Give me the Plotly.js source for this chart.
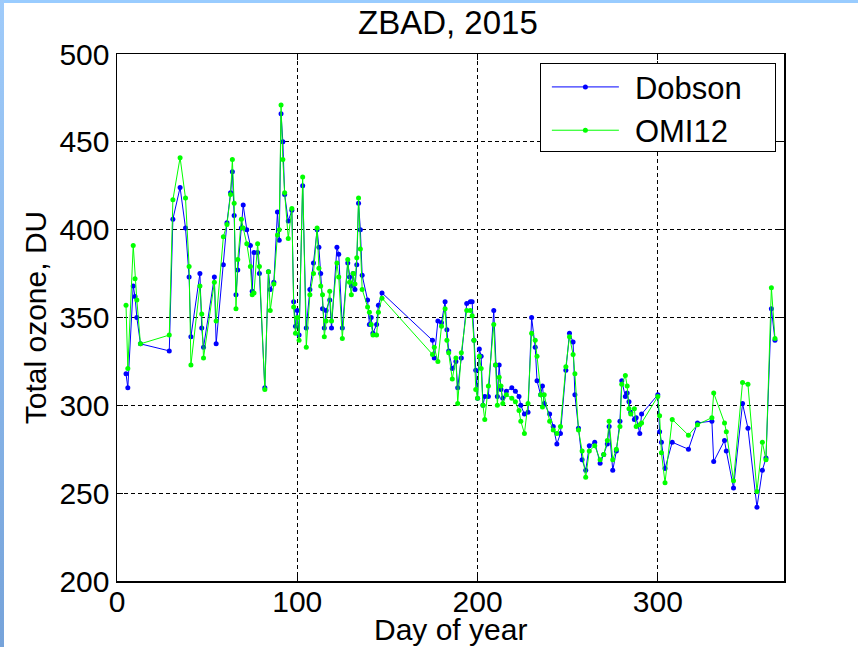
<!DOCTYPE html>
<html>
<head>
<meta charset="utf-8">
<script src="https://cdn.plot.ly/plotly-3.0.1.min.js"></script>
<style>
  html, body { margin: 0; padding: 0; background: #ffffff; }
  #wrap { position: relative; width: 858px; height: 647px; overflow: hidden; }
  #chart { position: absolute; left: 0; top: 0; width: 858px; height: 647px; }
  #edgeTop { position: absolute; left: 0; top: 0; width: 858px; height: 3px; background: #99ccff; z-index: 5; }
  #edgeLeft { position: absolute; left: 0; top: 0; width: 4px; height: 647px; z-index: 5;
              background: linear-gradient(to bottom, #9fcbfa, #76a3da); }
</style>
</head>
<body>
<div id="wrap">
  <div id="chart"></div>
  <div id="edgeTop"></div>
  <div id="edgeLeft"></div>
</div>
<script>
// Total ozone at ZBAD during 2015: ground-based Dobson vs satellite OMI12 (DU)
const days = [5,6,9,10,11,13,29,31,35,38,40,41,46,47,48,54,55,59,61,63,64,65,66,67,69,70,72,74,75,76,78,79,82,84,85,87,89,90,91,92,93,95,97,98,99,100,101,103,105,107,109,111,112,113,114,115,116,118,119,122,123,125,128,129,130,131,132,133,134,135,136,139,140,141,142,144,145,147,175,176,178,180,182,183,184,186,188,189,191,194,196,197,198,199,200,201,202,203,204,206,209,210,211,212,213,214,216,219,221,223,224,226,228,230,232,233,235,236,237,240,242,244,246,249,251,253,254,256,258,260,262,265,268,270,272,273,275,277,279,280,282,283,284,285,287,288,290,291,300,301,302,304,308,317,322,330,331,337,338,342,347,350,355,358,360,363,365];

const dobson = [318,310,368,362,350,335,331,406,424,401,373,339,375,344,333,373,335,380,404,421,433,408,363,377,401,414,400,391,365,387,387,375,310,376,366,370,410,394,466,450,420,405,411,359,345,354,340,425,344,366,381,400,390,375,355,344,354,360,344,390,386,344,381,373,368,375,366,380,415,400,374,360,346,350,341,346,357,364,337,327,348,347,359,343,331,321,325,310,327,358,359,359,337,320,304,332,328,300,305,305,354,323,305,323,309,304,308,310,308,305,300,295,296,350,333,314,306,311,301,295,288,278,284,320,341,336,306,287,269,263,277,279,267,272,278,288,263,274,291,314,305,307,302,296,292,293,284,295,306,285,279,264,279,275,290,291,268,280,274,253,301,287,242,263,270,355,337];

const omi12 = [357,321,391,372,360,335,340,417,441,418,379,323,368,352,327,370,348,396,403,420,440,415,355,383,406,401,392,379,363,364,392,379,309,376,354,369,397,400,471,440,421,395,412,356,341,350,337,430,333,363,375,401,378,368,363,339,348,365,348,381,373,338,383,370,363,375,369,384,418,389,366,356,353,346,340,340,353,361,329,333,325,345,355,337,330,315,327,301,330,354,354,351,337,309,304,328,321,300,292,311,346,323,300,316,311,301,306,304,302,297,291,284,301,341,337,328,306,299,306,291,286,284,288,322,339,329,318,286,274,259,274,277,269,272,280,291,269,275,288,312,317,311,298,295,298,288,289,290,305,294,273,256,292,283,289,293,307,290,285,257,313,312,251,279,269,367,338];

const xTicks = [0, 100, 200, 300];
const yTicks = [200, 250, 300, 350, 400, 450, 500];

const FONT = 'Liberation Sans, Arial, Helvetica, sans-serif';

const traces = [
  {
    x: days, y: dobson, name: 'Dobson', type: 'scatter', mode: 'lines+markers',
    line: { color: '#0000ff', width: 1 },
    marker: { color: '#0000ff', size: 5 }
  },
  {
    x: days, y: omi12, name: 'OMI12', type: 'scatter', mode: 'lines+markers',
    line: { color: '#00ff00', width: 1 },
    marker: { color: '#00ff00', size: 5 }
  }
];

const axisCommon = {
  showline: true, linecolor: '#000000', linewidth: 1.5, mirror: 'ticks',
  ticks: 'inside', ticklen: 6, tickwidth: 1, tickcolor: '#000000',
  showgrid: true, gridcolor: '#000000', gridwidth: 1, griddash: '4px,3px',
  zeroline: false, tickfont: { family: FONT, size: 30, color: '#000000' }
};

const layout = {
  width: 858, height: 647,
  margin: { l: 117, r: 74, t: 54, b: 66, pad: 0 },
  paper_bgcolor: '#ffffff', plot_bgcolor: '#ffffff',
  font: { family: FONT, color: '#000000' },
  title: {
    text: 'ZBAD, 2015', font: { family: FONT, size: 33, color: '#000000' },
    xref: 'container', yref: 'container', x: 0.522, y: 0.965,
    xanchor: 'center', yanchor: 'middle'
  },
  xaxis: Object.assign({}, axisCommon, {
    range: [0, 370], tickmode: 'array', tickvals: xTicks, ticklabelstandoff: -7
  }),
  yaxis: Object.assign({}, axisCommon, {
    range: [200, 500], tickmode: 'array', tickvals: yTicks,
    title: { text: 'Total ozone, DU', font: { family: FONT, size: 30, color: '#000000' }, standoff: 4 }
  }),
  // x-axis caption placed just under the tick labels
  annotations: [{
    text: 'Day of year', xref: 'paper', yref: 'paper', x: 0.5, y: -0.057,
    xanchor: 'center', yanchor: 'top', showarrow: false,
    font: { family: FONT, size: 30, color: '#000000' }
  }],
  legend: {
    x: 0.634, y: 0.99, xanchor: 'left', yanchor: 'top',
    bgcolor: '#ffffff', bordercolor: '#000000', borderwidth: 1,
    font: { family: FONT, size: 31, color: '#000000' },
    itemwidth: 84, tracegroupgap: 0
  },
  showlegend: true
};

Plotly.newPlot('chart', traces, layout, { displayModeBar: false, staticPlot: true }).then(function (gd) {
  // widen the legend sample lines and centre their markers on them
  gd.querySelectorAll('.legend .legendlines path').forEach(function (p) {
    p.setAttribute('d', 'M11,0h67');
  });
  gd.querySelectorAll('.legend .legendpoints path.scatterpts').forEach(function (p) {
    p.setAttribute('transform', 'translate(44.5,0)');
  });
  // legend frame: wider box with a tighter bottom edge
  const bg = gd.querySelector('.legend rect.bg');
  if (bg) {
    const y0 = parseFloat(bg.getAttribute('y')) || 0;
    bg.setAttribute('width', 235);
    bg.setAttribute('y', y0 + 4);
    bg.setAttribute('height', 88);
  }
});
</script>
</body>
</html>
